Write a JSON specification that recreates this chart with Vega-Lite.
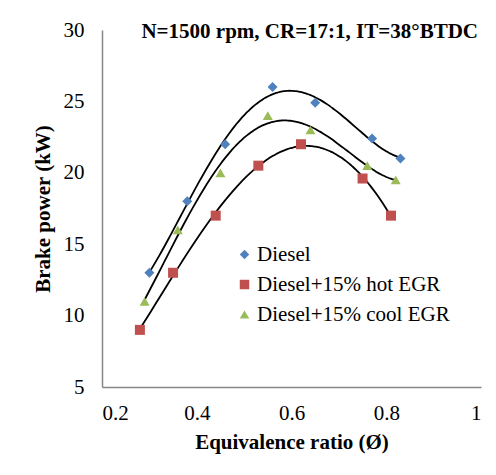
{
  "$schema": "https://vega.github.io/schema/vega-lite/v6.json",
  "width": 379,
  "height": 357,
  "autosize": {"type": "none"},
  "padding": {"left": 102, "top": 30, "right": 15, "bottom": 88},
  "background": "white",
  "config": {
    "view": {"stroke": null}
  },
  "title": {"text": "N=1500 rpm, CR=17:1, IT=38°BTDC", "anchor": "end", "font": "Liberation Serif", "fontSize": 21, "fontWeight": "bold", "color": "#000", "baseline": "alphabetic", "offset": 0, "dy": 40, "dx": -3},
  "data": {"values": [
    {"series": "Diesel", "phi": 0.30, "bp": 13},
    {"series": "Diesel", "phi": 0.38, "bp": 18},
    {"series": "Diesel", "phi": 0.46, "bp": 22},
    {"series": "Diesel", "phi": 0.56, "bp": 26},
    {"series": "Diesel", "phi": 0.65, "bp": 24.9},
    {"series": "Diesel", "phi": 0.77, "bp": 22.4},
    {"series": "Diesel", "phi": 0.83, "bp": 21},
    {"series": "Diesel+15% hot EGR", "phi": 0.28, "bp": 9},
    {"series": "Diesel+15% hot EGR", "phi": 0.35, "bp": 13},
    {"series": "Diesel+15% hot EGR", "phi": 0.44, "bp": 17},
    {"series": "Diesel+15% hot EGR", "phi": 0.53, "bp": 20.5},
    {"series": "Diesel+15% hot EGR", "phi": 0.62, "bp": 22},
    {"series": "Diesel+15% hot EGR", "phi": 0.75, "bp": 19.6},
    {"series": "Diesel+15% hot EGR", "phi": 0.81, "bp": 17},
    {"series": "Diesel+15% cool EGR", "phi": 0.29, "bp": 11},
    {"series": "Diesel+15% cool EGR", "phi": 0.36, "bp": 16},
    {"series": "Diesel+15% cool EGR", "phi": 0.45, "bp": 20},
    {"series": "Diesel+15% cool EGR", "phi": 0.55, "bp": 24},
    {"series": "Diesel+15% cool EGR", "phi": 0.64, "bp": 23},
    {"series": "Diesel+15% cool EGR", "phi": 0.76, "bp": 20.5},
    {"series": "Diesel+15% cool EGR", "phi": 0.82, "bp": 19.5}
  ]},
  "layer": [
    {
      "transform": [{"regression": "bp", "on": "phi", "groupby": ["series"], "method": "poly", "order": 4}],
      "mark": {"type": "line", "color": "#000", "strokeWidth": 1.8, "interpolate": "monotone"},
      "encoding": {
        "x": {"field": "phi", "type": "quantitative", "scale": {"domain": [0.2, 1]}},
        "y": {"field": "bp", "type": "quantitative", "scale": {"domain": [5, 30]}},
        "detail": {"field": "series"}
      }
    },
    {
      "mark": {"type": "point", "filled": true, "opacity": 1, "size": 100},
      "encoding": {
        "x": {"field": "phi", "type": "quantitative", "scale": {"domain": [0.2, 1]}, "axis": {"title": "Equivalence ratio (Ø)", "values": [0.2, 0.4, 0.6, 0.8, 1], "format": "~g", "grid": false, "ticks": false, "domainColor": "#878787", "domainWidth": 1.5, "labelPadding": 15, "titlePadding": 8, "labelFont": "Liberation Serif", "labelFontSize": 21, "labelColor": "#000", "titleFont": "Liberation Serif", "titleFontSize": 21, "titleFontWeight": "bold", "titleColor": "#000"}},
        "y": {"field": "bp", "type": "quantitative", "scale": {"domain": [5, 30]}, "axis": {"title": "Brake power (kW)", "values": [5, 10, 15, 20, 25, 30], "grid": false, "ticks": false, "domainColor": "#878787", "domainWidth": 1.5, "labelPadding": 18, "titlePadding": 10, "labelFont": "Liberation Serif", "labelFontSize": 21, "labelColor": "#000", "titleFont": "Liberation Serif", "titleFontSize": 21, "titleFontWeight": "bold", "titleColor": "#000"}},
        "color": {"field": "series", "type": "nominal", "scale": {"domain": ["Diesel", "Diesel+15% hot EGR", "Diesel+15% cool EGR"], "range": ["#4F81BD", "#C0504D", "#9BBB59"]}, "legend": {"title": null, "orient": "none", "legendX": 132, "legendY": 214, "symbolSize": 90, "labelOffset": 2, "rowPadding": 8, "labelFont": "Liberation Serif", "labelFontSize": 21, "labelColor": "#000", "labelLimit": 400}},
        "shape": {"field": "series", "type": "nominal", "scale": {"domain": ["Diesel", "Diesel+15% hot EGR", "Diesel+15% cool EGR"], "range": ["diamond", "square", "triangle-up"]}, "legend": {"title": null, "orient": "none", "legendX": 132, "legendY": 214, "symbolSize": 90, "labelOffset": 2, "rowPadding": 8, "labelFont": "Liberation Serif", "labelFontSize": 21, "labelColor": "#000", "labelLimit": 400}}
      }
    }
  ]
}
